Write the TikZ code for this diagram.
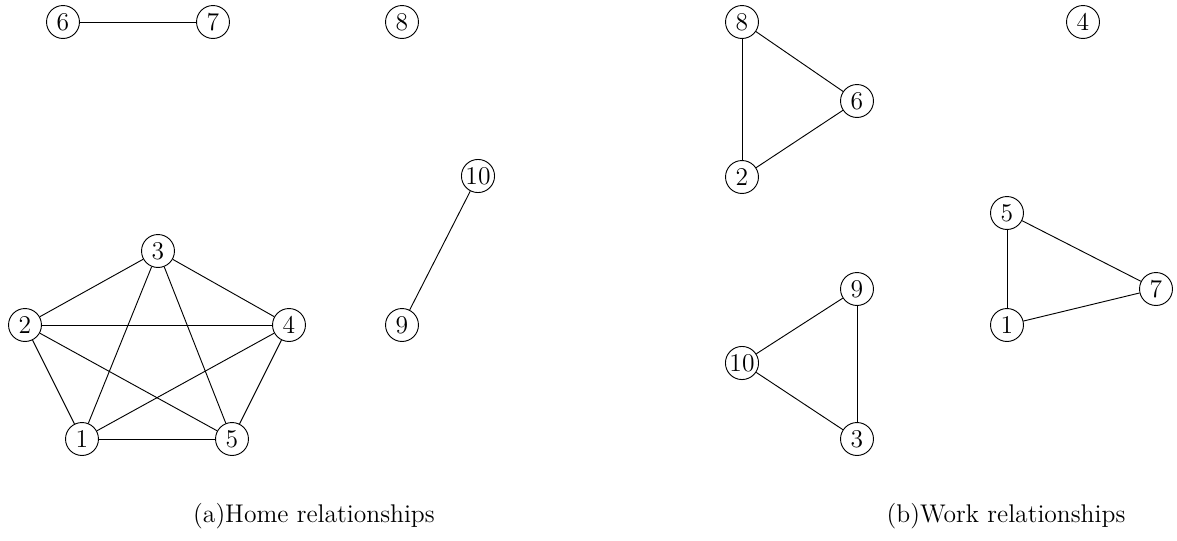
\documentclass[tikz,border=0pt]{standalone}
\begin{document}
\begin{tikzpicture}[x=0.54pt,y=-0.54pt,
  vtx/.style={circle,draw,line width=0.5pt,inner sep=0.5pt,minimum size=17.8pt,font=\fontsize{13.8}{16}\selectfont},
  edge/.style={line width=0.5pt},
  captext/.style={anchor=base,font=\fontsize{13.8}{16}\selectfont}]
\useasboundingbox (0,0) rectangle (1177,540);
% left graph
\node[vtx] (l6) at (63,22) {6};
\node[vtx] (l7) at (213,22) {7};
\node[vtx] (l8) at (402,22) {8};
\node[vtx] (l10) at (478,176) {10};
\node[vtx] (l9) at (402,325) {9};
\node[vtx] (l3) at (158,251) {3};
\node[vtx] (l2) at (25,325) {2};
\node[vtx] (l4) at (289,325) {4};
\node[vtx] (l1) at (82,439) {1};
\node[vtx] (l5) at (232,439) {5};
\draw[edge] (l6) -- (l7);
\draw[edge] (l10) -- (l9);
\draw[edge] (l1) -- (l2);
\draw[edge] (l1) -- (l3);
\draw[edge] (l1) -- (l4);
\draw[edge] (l1) -- (l5);
\draw[edge] (l2) -- (l3);
\draw[edge] (l2) -- (l4);
\draw[edge] (l2) -- (l5);
\draw[edge] (l3) -- (l4);
\draw[edge] (l3) -- (l5);
\draw[edge] (l4) -- (l5);
% right graph
\node[vtx] (r8) at (742,22) {8};
\node[vtx] (r4) at (1083,22) {4};
\node[vtx] (r6) at (857,101) {6};
\node[vtx] (r2) at (742,177) {2};
\node[vtx] (r5) at (1007,213) {5};
\node[vtx] (r7) at (1156,289) {7};
\node[vtx] (r1) at (1007,325) {1};
\node[vtx] (r9) at (857,289) {9};
\node[vtx] (r10) at (742,363) {10};
\node[vtx] (r3) at (857,439) {3};
\draw[edge] (r8) -- (r6);
\draw[edge] (r8) -- (r2);
\draw[edge] (r2) -- (r6);
\draw[edge] (r5) -- (r7);
\draw[edge] (r5) -- (r1);
\draw[edge] (r1) -- (r7);
\draw[edge] (r9) -- (r10);
\draw[edge] (r9) -- (r3);
\draw[edge] (r10) -- (r3);
% captions
\node[captext] (capa) at (314,522) {(a)Home relationships};
\node[captext] (capb) at (1006,522) {(b)Work relationships};
\end{tikzpicture}
\end{document}
